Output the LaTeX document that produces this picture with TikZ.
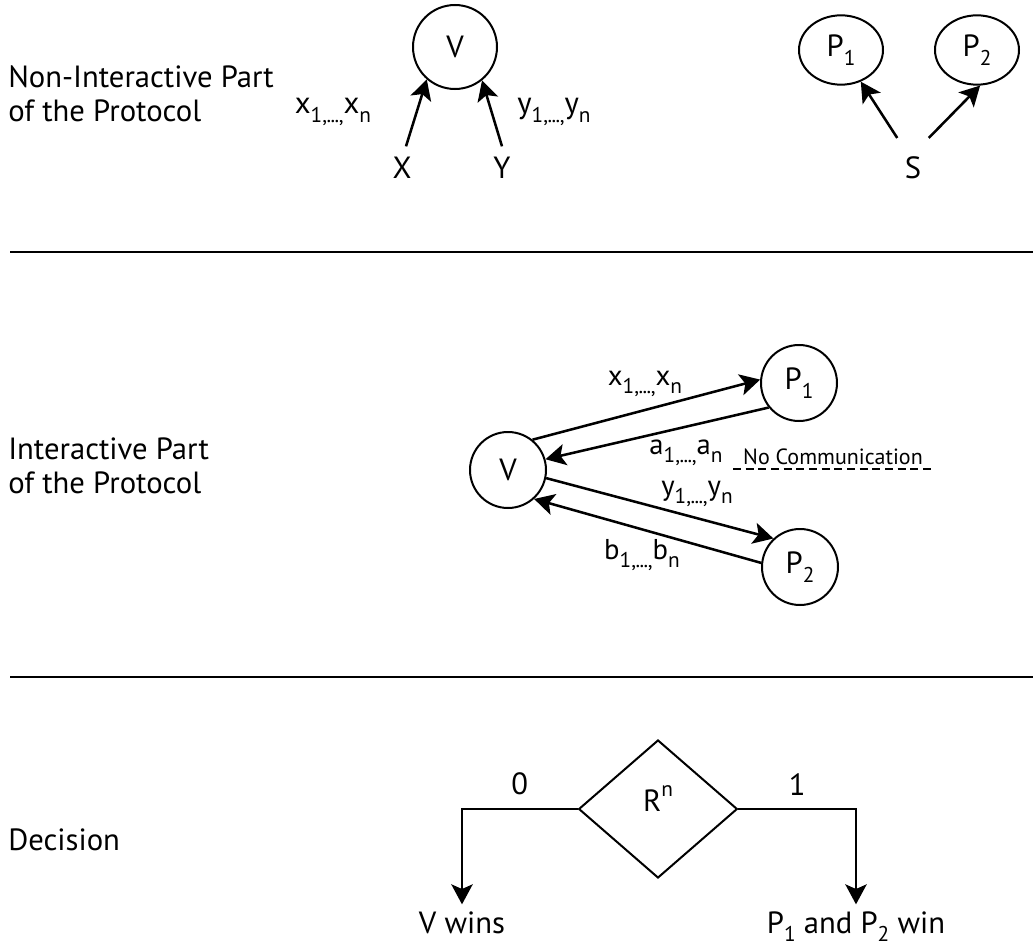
\documentclass[tikz,border=0pt]{standalone}
\usepackage{fontspec}
\setmainfont{PT Sans}
\usetikzlibrary{shapes.geometric,arrows.meta}
% lowered / raised small indices
\newcommand\lo[1]{\raisebox{-0.28em}{\fontsize{16}{16}\selectfont #1}}
\newcommand\hi[1]{\raisebox{0.5em}{\fontsize{16}{16}\selectfont #1}}
% a message sequence such as x_1,...,x_n
\newcommand\seq[1]{#1\lo{1,\kern-0.3pt.\kern-0.4pt.\kern-0.4pt.\kern-0.3pt,}#1\lo{n}}
\begin{document}
\begin{tikzpicture}[x=0.75pt,y=-0.75pt,
  every node/.style={font=\fontsize{23}{25.5}\selectfont},
  party/.style={draw, ellipse, line width=1.5pt, inner sep=0pt},
  flow/.style={line width=1.9pt, -{Stealth[length=15pt,width=16pt,inset=3.5pt]}},
  rule/.style={line width=1.6pt},
  heading/.style={anchor=west, align=left, inner sep=0pt},
  msg/.style={inner sep=1pt},
  midmsg/.style={inner sep=1pt, font=\fontsize{21.5}{24}\selectfont}]
\useasboundingbox (0,0) rectangle (1033,949);

% ---------------- non-interactive part ----------------
\node[heading] (h1) at (8,94) {Non-Interactive Part\\of the Protocol};

\node[party, minimum width=63pt, minimum height=63pt] (Vt) at (455,47) {V};
\node[inner ysep=8pt, inner xsep=2pt] (X) at (402,168) {X};
\node[inner ysep=8pt, inner xsep=2pt] (Y) at (502,168) {Y};
\draw[flow] ([xshift=3pt]X.north) -- (Vt.229);
\draw[flow] (Y.north) -- (Vt.309);
\node[msg] (xs) at (333,112) {\seq{x}};
\node[msg] (ys) at (554,112) {\seq{y}};

\node[party, minimum width=63pt, minimum height=52pt] (P1t) at (841,50) {P\lo{1}};
\node[party, minimum width=63pt, minimum height=52pt] (P2t) at (977,50) {P\lo{2}};
\node[inner ysep=14pt, inner xsep=5.5pt] (S) at (913,168) {S};
\draw[flow] (S.north west) -- (P1t.302);
\draw[flow] (S.north east) -- (P2t.275);

\coordinate (r1a) at (10,252);
\coordinate (r1b) at (1033,252);
\draw[rule] (r1a) -- (r1b);

% ---------------- interactive part ----------------
\node[heading] (h2) at (8,466) {Interactive Part\\of the Protocol};

\node[party, minimum size=57pt] (Vm) at (508,470) {V};
\node[party, minimum size=57pt] (P1m) at (799,383) {P\lo{1}};
\node[party, minimum size=57pt] (P2m) at (800,567) {P\lo{2}};

\draw[flow] (Vm.51) -- (P1m.175);
\draw[flow] (P1m.219) -- (Vm.16);
\draw[flow] (Vm.348) -- (P2m.133);
\draw[flow] (P2m.174) -- (Vm.312);

\node[midmsg] (xm) at (645,384) {\seq{x}};
\node[midmsg] (am) at (686,453) {\seq{a}};
\node[midmsg] (ym) at (697,494) {\seq{y}};
\node[midmsg] (bm) at (642,555) {\seq{b}};

\coordinate (ncL) at (733,469);
\coordinate (ncR) at (933,469);
\draw[line width=1.3pt, dash pattern=on 6pt off 3.5pt] (ncL) -- (ncR)
  node[midway, above=-1pt, font=\fontsize{16.5}{18}\selectfont] (nc) {No Communication};

\coordinate (r2a) at (10,677);
\coordinate (r2b) at (1033,677);
\draw[rule] (r2a) -- (r2b);

% ---------------- decision ----------------
\node[heading] (h3) at (8,840) {Decision};

\node[draw, diamond, line width=1.5pt, inner sep=0pt, aspect=1.15,
      minimum width=119pt, minimum height=103.5pt,
      label={[yshift=8pt]center:R\hi{n}}] (R) at (658,809) {};
\node[anchor=base, inner ysep=5pt] (Vw) at (462,933) {V wins};
\node[anchor=base, inner ysep=5pt] (Pw) at (856,933) {P\lo{1} and P\lo{2} win};

\draw[flow] (R.west) -| node[pos=0.25, above=6pt] (zero) {0} (Vw.north);
\draw[flow] (R.east) -| node[pos=0.25, above=6pt] (one) {1} (Pw.north);
\end{tikzpicture}
\end{document}
